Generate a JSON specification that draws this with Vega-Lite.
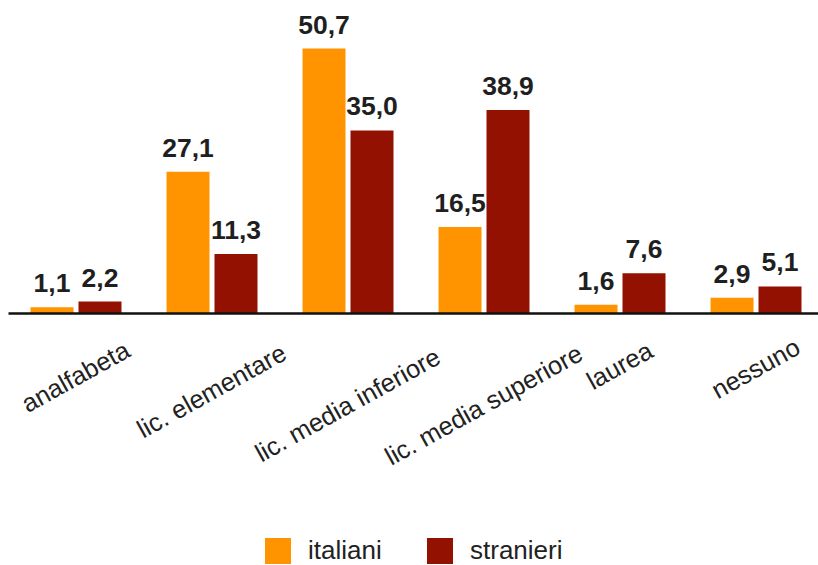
{
  "$schema": "https://vega.github.io/schema/vega-lite/v6.json",
  "width": 810,
  "height": 313,
  "autosize": {"type": "none"},
  "padding": {"left": 8, "top": 0, "right": 0, "bottom": 252},
  "background": "white",
  "config": {
    "view": {"stroke": null},
    "font": "Liberation Sans",
    "locale": {"number": {"decimal": ",", "thousands": ".", "grouping": [3], "currency": ["", " €"]}}
  },
  "data": {
    "values": [
      {"istruzione": "analfabeta", "gruppo": "italiani", "valore": 1.1},
      {"istruzione": "analfabeta", "gruppo": "stranieri", "valore": 2.2},
      {"istruzione": "lic. elementare", "gruppo": "italiani", "valore": 27.1},
      {"istruzione": "lic. elementare", "gruppo": "stranieri", "valore": 11.3},
      {"istruzione": "lic. media inferiore", "gruppo": "italiani", "valore": 50.7},
      {"istruzione": "lic. media inferiore", "gruppo": "stranieri", "valore": 35.0},
      {"istruzione": "lic. media superiore", "gruppo": "italiani", "valore": 16.5},
      {"istruzione": "lic. media superiore", "gruppo": "stranieri", "valore": 38.9},
      {"istruzione": "laurea", "gruppo": "italiani", "valore": 1.6},
      {"istruzione": "laurea", "gruppo": "stranieri", "valore": 7.6},
      {"istruzione": "nessuno", "gruppo": "italiani", "valore": 2.9},
      {"istruzione": "nessuno", "gruppo": "stranieri", "valore": 5.1}
    ]
  },
  "encoding": {
    "x": {
      "field": "istruzione",
      "type": "nominal",
      "sort": null,
      "scale": {"paddingInner": 0.331, "paddingOuter": 0.1434, "align": 0.577},
      "axis": {
        "title": null,
        "zindex": 1,
        "ticks": false,
        "tickSize": 0,
        "domainColor": "#111111",
        "domainWidth": 2.5,
        "labelAngle": -29,
        "labelAlign": "center",
        "labelBaseline": "middle",
        "labelFontSize": 25.5,
        "labelColor": "#222222",
        "labelLimit": 400,
        "labelOverlap": false,
        "labelBound": false,
        "labelFlush": false,
        "labelPadding": {"expr": "36 + 2.8 * length(datum.value)"}
      }
    },
    "xOffset": {
      "field": "gruppo",
      "type": "nominal",
      "sort": ["italiani", "stranieri"],
      "scale": {"paddingInner": 0.104, "paddingOuter": 0}
    },
    "y": {
      "field": "valore",
      "type": "quantitative",
      "scale": {"domain": [0, 60], "nice": false},
      "axis": null
    }
  },
  "layer": [
    {
      "mark": {"type": "bar"},
      "encoding": {
        "color": {
          "field": "gruppo",
          "type": "nominal",
          "sort": ["italiani", "stranieri"],
          "scale": {"domain": ["italiani", "stranieri"], "range": ["#FF9400", "#931100"]},
          "legend": {
            "title": null,
            "orient": "none",
            "legendX": 257,
            "legendY": 538,
            "direction": "horizontal",
            "padding": 0,
            "symbolType": "square",
            "symbolSize": 676,
            "symbolStrokeWidth": 0,
            "symbolOpacity": 1,
            "labelFontSize": 26,
            "labelColor": "#222222",
            "labelOffset": 17,
            "columnPadding": 45
          }
        }
      }
    },
    {
      "mark": {
        "type": "text",
        "fontSize": 26.5,
        "fontWeight": "bold",
        "baseline": "alphabetic",
        "align": "center",
        "dy": -15,
        "color": "#1f1f1f"
      },
      "encoding": {"text": {"field": "valore", "type": "quantitative", "format": ".1f"}}
    }
  ]
}
